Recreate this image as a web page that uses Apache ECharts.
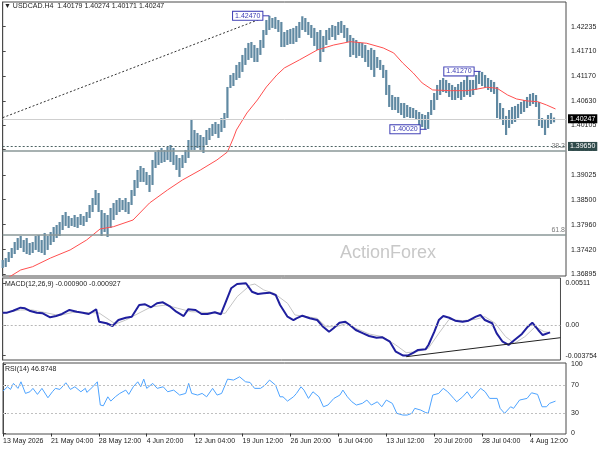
<!DOCTYPE html>
<html><head><meta charset="utf-8">
<script src="https://cdn.jsdelivr.net/npm/echarts@6/dist/echarts.min.js"></script>
<style>html,body{margin:0;padding:0;background:#fff}#c{width:600px;height:450px}</style>
</head><body><div id="c"></div>
<script>
// ---- tick labels ----
const timeLabels = ['13 May 2026','21 May 04:00','28 May 12:00','4 Jun 20:00','12 Jun 04:00','19 Jun 12:00','26 Jun 20:00','6 Jul 04:00','13 Jul 12:00','20 Jul 20:00','28 Jul 04:00','4 Aug 12:00'];
const barsPerLabel = 32;
const priceTicks = [1.42235,1.41710,1.41170,1.40630,1.40105,1.39585,1.39025,1.38500,1.37960,1.37420,1.36895];
const macdTicks = [0.00511, 0, -0.003754];
const macdTickLabels = ['0.00511','0.00','-0.003754'];
const rsiTicks = [100,70,30,0];

// ---- price bars (one entry per two H4 bars) ----
const highs = [1.37199,1.37242,1.37371,1.37458,1.37587,1.37674,1.37717,1.37630,1.37674,1.37566,
1.37587,1.37717,1.37738,1.37630,1.37782,1.37717,1.37803,1.37911,1.37954,1.38019,
1.38170,1.38235,1.38149,1.38105,1.38170,1.38127,1.38192,1.38149,1.38235,1.38386,
1.38537,1.38710,1.38645,1.38278,1.38213,1.38170,1.38321,1.38429,1.38494,1.38537,
1.38494,1.38537,1.38451,1.38710,1.38926,1.39142,1.39228,1.39185,1.39099,1.39034,
1.39358,1.39530,1.39574,1.39617,1.39574,1.39638,1.39681,1.39617,1.39466,1.39401,
1.39466,1.39574,1.39789,1.40243,1.40005,1.39941,1.39897,1.39854,1.40005,1.40049,
1.40135,1.40178,1.40135,1.40264,1.40372,1.40934,1.41193,1.41236,1.41409,1.41473,
1.41625,1.41776,1.41884,1.41905,1.41840,1.41776,1.41948,1.42164,1.42380,1.42470,
1.42423,1.42445,1.42380,1.42337,1.42121,1.42164,1.42186,1.42208,1.42251,1.42337,
1.42460,1.42423,1.42337,1.42272,1.42208,1.42121,1.42164,1.42035,1.42164,1.42208,
1.42272,1.42251,1.42337,1.42359,1.42272,1.42208,1.42056,1.41992,1.41948,1.41905,
1.41884,1.41840,1.41733,1.41776,1.41733,1.41581,1.41517,1.41409,1.41301,1.40977,
1.40761,1.40718,1.40718,1.40588,1.40588,1.40545,1.40502,1.40480,1.40437,1.40394,
1.40351,1.40329,1.40394,1.40653,1.40804,1.40977,1.41085,1.41128,1.41085,1.41020,
1.40977,1.40934,1.40998,1.41042,1.41085,1.41171,1.41085,1.41085,1.41193,1.41270,
1.41258,1.41193,1.41128,1.41085,1.41042,1.40934,1.40588,1.40480,1.40308,1.40437,
1.40502,1.40524,1.40567,1.40610,1.40653,1.40718,1.40783,1.40804,1.40761,1.40610,
1.40264,1.40221,1.40329,1.40372,1.40274];
const lows = [1.37026,1.37048,1.37155,1.37242,1.37328,1.37415,1.37458,1.37371,1.37328,1.37307,
1.37350,1.37415,1.37371,1.37350,1.37307,1.37415,1.37522,1.37587,1.37674,1.37717,
1.37846,1.37933,1.37890,1.37933,1.37911,1.37890,1.37954,1.37933,1.38019,1.38105,
1.38235,1.38386,1.38235,1.37717,1.37803,1.37695,1.37890,1.38062,1.38170,1.38235,
1.38278,1.38235,1.38192,1.38386,1.38580,1.38753,1.38883,1.38883,1.38818,1.38667,
1.38818,1.39185,1.39250,1.39293,1.39314,1.39358,1.39314,1.39250,1.39142,1.38991,
1.39185,1.39293,1.39401,1.39574,1.39574,1.39617,1.39574,1.39509,1.39681,1.39789,
1.39876,1.39919,1.39833,1.39962,1.40049,1.40264,1.40912,1.40955,1.41085,1.41128,
1.41258,1.41409,1.41517,1.41560,1.41473,1.41473,1.41625,1.41776,1.42056,1.42164,
1.42208,1.42186,1.42121,1.41797,1.41797,1.41840,1.41862,1.41862,1.41905,1.41992,
1.42164,1.42121,1.42056,1.41992,1.41819,1.41733,1.41473,1.41689,1.41840,1.41948,
1.42013,1.41948,1.42056,1.42100,1.41992,1.41905,1.41581,1.41625,1.41560,1.41603,
1.41560,1.41473,1.41366,1.41301,1.41150,1.41344,1.41301,1.41128,1.40761,1.40502,
1.40437,1.40437,1.40372,1.40329,1.40264,1.40286,1.40264,1.40264,1.40221,1.40049,
1.40070,1.40020,1.40027,1.40329,1.40437,1.40653,1.40761,1.40826,1.40804,1.40718,
1.40653,1.40653,1.40696,1.40653,1.40718,1.40761,1.40718,1.40761,1.40869,1.40998,
1.40955,1.40912,1.40869,1.40826,1.40783,1.40264,1.40221,1.40113,1.39897,1.40049,
1.40135,1.40178,1.40264,1.40351,1.40394,1.40480,1.40524,1.40567,1.40502,1.40092,
1.40049,1.39897,1.40049,1.40135,1.40171];

// ---- moving average [bar index, price] ----
const ma = [[0,1.36745],[12,1.36983],[20,1.37054],[32,1.37242],[45,1.37415],[56,1.37630],[65,1.37868],[74,1.37918],[87,1.38062],[98,1.38429],[110,1.38710],[120,1.38926],[132,1.39142],[143,1.39358],[150,1.39530],[154,1.39833],[156,1.40005],[163,1.40372],[170,1.40653],[176,1.40934],[183,1.41193],[188,1.41344],[198,1.41517],[210,1.41733],[221,1.41840],[232,1.41912],[243,1.41877],[254,1.41776],[261,1.41668],[267,1.41452],[274,1.41236],[280,1.41020],[287,1.40869],[299,1.40854],[310,1.40854],[317,1.40890],[323,1.40927],[330,1.40906],[337,1.40761],[343,1.40675],[350,1.40632],[357,1.40617],[363,1.40545],[369,1.40459]];

// ---- MACD main and signal [bar index, value] ----
const macd = [[0,0.00151],[3,0.00151],[7,0.00175],[12,0.00212],[15,0.00205],[18,0.00175],[23,0.00151],[27,0.00143],[32,0.00094],[36,0.00110],[40,0.00135],[45,0.00184],[50,0.00163],[54,0.00151],[58,0.00135],[63,0.00192],[65,0.00040],[70,0.00021],[74,-0.00012],[78,0.00061],[83,0.00089],[87,0.00102],[92,0.00245],[96,0.00254],[100,0.00217],[104,0.00266],[108,0.00278],[113,0.00224],[117,0.00163],[122,0.00110],[125,0.00192],[130,0.00184],[134,0.00135],[138,0.00135],[143,0.00156],[147,0.00131],[150,0.00266],[154,0.00450],[158,0.00502],[164,0.00511],[168,0.00408],[172,0.00380],[176,0.00388],[180,0.00396],[184,0.00368],[187,0.00245],[192,0.00102],[196,0.00061],[198,0.00082],[202,0.00114],[207,0.00082],[212,0.00061],[216,-0.00021],[220,-0.00082],[223,-0.00040],[227,0.00028],[231,0.00040],[234,0.00000],[238,-0.00061],[243,-0.00102],[247,-0.00135],[252,-0.00156],[256,-0.00151],[261,-0.00205],[265,-0.00327],[270,-0.00375],[273,-0.00375],[277,-0.00339],[280,-0.00306],[285,-0.00298],[287,-0.00245],[291,-0.00082],[294,0.00061],[297,0.00110],[301,0.00089],[305,0.00053],[310,0.00040],[314,0.00053],[319,0.00102],[322,0.00123],[325,0.00061],[330,0.00021],[333,-0.00102],[337,-0.00205],[341,-0.00245],[345,-0.00184],[350,-0.00110],[354,-0.00021],[357,0.00028],[361,-0.00061],[364,-0.00123],[369,-0.00090]];
const signal = [[0,0.00147],[12,0.00184],[20,0.00184],[30,0.00147],[38,0.00116],[47,0.00153],[56,0.00153],[65,0.00147],[72,0.00061],[76,0.00012],[83,0.00061],[92,0.00147],[100,0.00221],[110,0.00245],[118,0.00205],[127,0.00163],[140,0.00151],[150,0.00143],[158,0.00347],[167,0.00490],[170,0.00502],[176,0.00429],[183,0.00388],[192,0.00266],[197,0.00123],[198,0.00102],[205,0.00102],[212,0.00082],[218,-0.00021],[225,-0.00021],[232,0.00021],[238,-0.00040],[247,-0.00110],[256,-0.00143],[265,-0.00245],[272,-0.00339],[279,-0.00327],[287,-0.00285],[294,-0.00102],[301,0.00070],[310,0.00053],[319,0.00070],[325,0.00102],[332,0.00021],[339,-0.00143],[345,-0.00224],[352,-0.00143],[359,-0.00021],[365,-0.00082],[369,-0.00093]];

// ---- RSI(14) [bar index, value] ----
const rsi = [[0,61.4],[3,67.6],[5,63.8],[7,72.5],[10,65.3],[12,74.8],[15,58],[18,60.4],[20,65.3],[23,56.6],[26,65.3],[30,51.7],[33,60.4],[35,65.3],[38,63.8],[42,73.4],[45,63.8],[48,67.6],[52,60.4],[55,65.3],[56,59.5],[60,67.6],[63,74.8],[65,41.2],[67,40.1],[70,53.1],[72,46.9],[75,53.1],[78,58],[82,62.8],[84,56.6],[87,67.6],[90,74.8],[92,67.6],[94,78.7],[96,65.3],[100,72.5],[103,65.3],[107,67.6],[110,60.4],[114,62.8],[118,55.6],[122,58],[124,72.5],[126,58],[130,55.6],[133,58],[136,53.1],[140,65.3],[143,55.6],[146,58],[150,78.7],[154,77.3],[158,82],[162,74.8],[165,73.9],[168,65.3],[172,65.3],[175,70],[178,77.3],[182,70],[185,53.1],[187,53.1],[190,46.9],[194,53.1],[196,58],[199,67.6],[201,62.8],[204,50.8],[207,60.4],[211,53.1],[214,38.7],[217,41.2],[221,50.8],[225,55.6],[227,62.8],[230,53.1],[233,45.9],[236,41.2],[240,43.6],[243,48.4],[246,41.2],[250,45.9],[253,38.7],[256,48.4],[260,43.6],[263,29.2],[267,26.7],[270,26.7],[273,29.2],[275,36.4],[279,33.9],[282,30.6],[284,29.2],[287,55.6],[291,58],[294,65.3],[297,60.4],[301,50.8],[303,45.9],[307,53.1],[310,60.4],[313,50.8],[319,65.3],[322,60.4],[325,50.8],[330,50.8],[332,36.4],[335,29.2],[339,38.7],[341,36.4],[345,48.4],[350,50.8],[353,58.9],[357,56.6],[360,38.7],[363,38.7],[365,43.6],[369,46.87]];

// ---- annotations ----
const headerOHLC = [1.40179, 1.40274, 1.40171, 1.40247];
const macdHeader = [-0.000900, -0.000927];
const rsiHeader = 46.8748;
const lastPrice = 1.40247;
const levelPrice = 1.39650;
const fibLevels = [[1.39552,'38.2'],[1.37738,'61.8']];
const swings = [[178,1.42470],[283,1.40020],[319,1.41270]];
const trendMain = [[0,1.40271],[173,1.42413]];
const trendMacd = [[272,-0.003883],[376,-0.001556]];

const FONT = 'Liberation Sans';
const barData = highs.map((h, k) => [k * 2, lows[k], h]);
const xTickVals = timeLabels.map((_, i) => i * barsPerLabel);

const chart = echarts.init(document.getElementById('c'), null, {renderer: 'canvas'});
const xBase = {type: 'value', min: 0, max: 376, splitLine: {show: false}};
const gridBase = {left: 2.7, right: 34, show: true, borderColor: '#4a4a4a', borderWidth: 1};
const yLab = {fontSize: 7, color: '#222', margin: 5, fontFamily: FONT};

chart.setOption({
  animation: false,
  textStyle: {fontFamily: FONT},
  title: [
    {text: '\u25BC USDCAD.H4  ' + headerOHLC.map(v => v.toFixed(5)).join(' '), left: 4, top: 3, padding: 0,
     textStyle: {fontSize: 7, fontWeight: 'normal', color: '#222', fontFamily: FONT}},
    {text: 'MACD(12,26,9) ' + macdHeader.map(v => v.toFixed(6)).join(' '), left: 5, top: 281, padding: 0,
     textStyle: {fontSize: 7, fontWeight: 'normal', color: '#222', fontFamily: FONT}},
    {text: 'RSI(14) ' + rsiHeader.toFixed(4), left: 5, top: 366, padding: 0,
     textStyle: {fontSize: 7, fontWeight: 'normal', color: '#222', fontFamily: FONT}},
    {text: 'ActionForex', left: 340, top: 244, padding: 0,
     textStyle: {fontSize: 18, fontWeight: 'normal', color: '#c8c8c8', fontFamily: FONT}}
  ],
  grid: [
    Object.assign({top: 2, height: 274}, gridBase),
    Object.assign({top: 278, height: 82}, gridBase),
    Object.assign({top: 363, height: 71}, gridBase)
  ],
  xAxis: [
    Object.assign({gridIndex: 0, show: false}, xBase),
    Object.assign({gridIndex: 1, show: false}, xBase),
    Object.assign({gridIndex: 2,
      axisLine: {show: false},
      axisTick: {show: true, length: 3, customValues: xTickVals, lineStyle: {color: '#333'}},
      axisLabel: {customValues: xTickVals, align: 'left', margin: 4, fontSize: 7, color: '#222', fontFamily: FONT,
        formatter: v => timeLabels[Math.round(v / barsPerLabel)] || ''}}, xBase)
  ],
  yAxis: [
    {type: 'value', gridIndex: 0, position: 'right', min: 1.36853, max: 1.42768, splitLine: {show: false},
     axisLine: {show: true, lineStyle: {color: '#4a4a4a'}},
     axisTick: {show: true, length: 3, customValues: priceTicks, lineStyle: {color: '#4a4a4a'}},
     axisLabel: Object.assign({customValues: priceTicks, formatter: v => v.toFixed(5)}, yLab)},
    {type: 'value', gridIndex: 1, position: 'right', min: -0.004288, max: 0.005758, splitLine: {show: false},
     axisLine: {show: true, lineStyle: {color: '#4a4a4a'}},
     axisTick: {show: true, length: 3, customValues: macdTicks, lineStyle: {color: '#4a4a4a'}},
     axisLabel: Object.assign({customValues: macdTicks,
       formatter: v => { const i = macdTicks.findIndex(t => Math.abs(t - v) < 1e-9); return i >= 0 ? macdTickLabels[i] : ''; }}, yLab)},
    {type: 'value', gridIndex: 2, position: 'right', min: -0.7, max: 102, splitLine: {show: false},
     axisLine: {show: true, lineStyle: {color: '#4a4a4a'}},
     axisTick: {show: true, length: 3, customValues: rsiTicks, lineStyle: {color: '#4a4a4a'}},
     axisLabel: Object.assign({customValues: rsiTicks, formatter: v => String(v)}, yLab)}
  ],
  series: [
    {type: 'custom', xAxisIndex: 0, yAxisIndex: 0, data: barData, encode: {x: 0, y: [1, 2]}, silent: true,
     renderItem: function (params, api) {
       const x = api.value(0), lo = api.value(1), hi = api.value(2);
       const pHi = api.coord([x, hi]), pLo = api.coord([x, lo]);
       return {type: 'rect', shape: {x: pHi[0] - 1.1, y: pHi[1], width: 2.2, height: Math.max(1, pLo[1] - pHi[1])},
               style: {fill: '#6089a2'}};
     }},
    {type: 'line', xAxisIndex: 0, yAxisIndex: 0, data: ma, symbol: 'none', silent: true,
     lineStyle: {color: '#ff4f4f', width: 1},
     markLine: {silent: true, symbol: ['none', 'none'], animation: false, precision: 5,
       data: [
         {yAxis: lastPrice, lineStyle: {color: '#cfcfcf', type: 'solid', width: 1},
          label: {show: true, position: 'end', distance: 2, formatter: lastPrice.toFixed(5), color: '#fff',
                  backgroundColor: '#000', padding: [1, 2, 1, 2], fontSize: 7, fontFamily: FONT}},
         {yAxis: levelPrice, lineStyle: {color: '#4d6363', type: [2, 2], width: 1},
          label: {show: true, position: 'end', distance: 2, formatter: levelPrice.toFixed(5), color: '#fff',
                  backgroundColor: '#2f4a4a', padding: [1, 2, 1, 2], fontSize: 7, fontFamily: FONT}}
       ].concat(fibLevels.map(f => ({yAxis: f[0], lineStyle: {color: '#8a9797', type: 'solid', width: 1.5},
          label: {show: true, position: 'insideEndTop', distance: 1, formatter: f[1], color: '#7a7a7a', fontSize: 7, fontFamily: FONT}})))
     }},
    {type: 'line', xAxisIndex: 0, yAxisIndex: 0, data: trendMain, symbol: 'none', silent: true,
     lineStyle: {color: '#333', width: 1, type: [2, 2]},
     markPoint: {silent: true, animation: false, symbol: 'rect', symbolSize: [7, 1], symbolOffset: [-3.5, 0],
       itemStyle: {color: '#3c3cb4'},
       label: {show: true, position: 'left', distance: 0, color: '#3c3cb4', fontSize: 7, fontFamily: FONT,
               backgroundColor: '#fff', borderColor: '#3c3cb4', borderWidth: 1, padding: [1, 2, 0, 2],
               formatter: p => Number(p.data.coord[1]).toFixed(5)},
       data: swings.map(s => ({coord: s}))}},
    {type: 'line', xAxisIndex: 1, yAxisIndex: 1, data: signal, symbol: 'none', silent: true,
     lineStyle: {color: '#c4c4c4', width: 1}},
    {type: 'line', xAxisIndex: 1, yAxisIndex: 1, data: macd, symbol: 'none', silent: true,
     lineStyle: {color: '#1f1f9e', width: 2},
     markLine: {silent: true, symbol: ['none', 'none'], animation: false, precision: 5, label: {show: false},
       data: [{yAxis: 0, lineStyle: {color: '#b8b8b8', type: [2, 2], width: 1}}]}},
    {type: 'line', xAxisIndex: 1, yAxisIndex: 1, data: trendMacd, symbol: 'none', silent: true,
     lineStyle: {color: '#222', width: 1}},
    {type: 'line', xAxisIndex: 2, yAxisIndex: 2, data: rsi, symbol: 'none', silent: true,
     lineStyle: {color: '#4da3ff', width: 1},
     markLine: {silent: true, symbol: ['none', 'none'], animation: false, precision: 2, label: {show: false},
       data: [70, 30].map(v => ({yAxis: v, lineStyle: {color: '#c0c0c0', type: [2, 2], width: 1}}))}}
  ]
});
</script></body></html>
